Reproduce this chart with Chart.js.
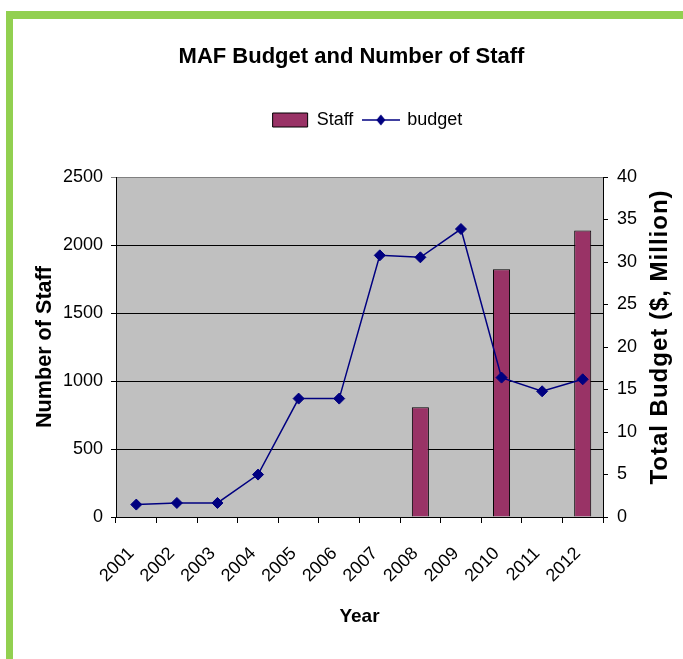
<!DOCTYPE html>
<html>
<head>
<meta charset="utf-8">
<title>MAF Budget and Number of Staff</title>
<script src="https://cdn.jsdelivr.net/npm/chart.js@4.4.1/dist/chart.umd.min.js"></script>
<style>
  html, body { margin: 0; padding: 0; background: #fff; }
  body { width: 683px; height: 659px; position: relative; overflow: hidden; }
  .frame {
    position: absolute; left: 6px; top: 11px; right: -20px; bottom: -20px;
    border-left: 7px solid #92D050; border-top: 8px solid #92D050;
  }
  canvas { position: absolute; left: 0; top: 0; }
</style>
</head>
<body>
<div class="frame"></div>
<canvas id="chart" width="683" height="659"></canvas>
<script>
const years       = ["2001", "2002", "2003", "2004", "2005", "2006", "2007", "2008", "2009", "2010", "2011", "2012"]
const staff       = [null, null, null, null, null, null, null, 807, null, 1821, null, 2106]
const budget      = [1.46, 1.65, 1.65, 4.99, 13.93, 13.93, 30.78, 30.55, 33.88, 16.4, 14.79, 16.2]
const staffTicks  = [0, 500, 1000, 1500, 2000, 2500]
const budgetTicks = [0, 5, 10, 15, 20, 25, 30, 35, 40]

const SANS       = "'Liberation Sans', Arial, sans-serif"
const barColor   = "#993366"
const lineColor  = "#000080"
const plotBg     = "#C0C0C0"
const rightTitle = "Total Budget ($, Million)"

// little line + diamond used as the legend symbol for the budget series
const budgetIcon = (() => {
  const c = document.createElement("canvas")
  c.width = 38
  c.height = 14
  const g = c.getContext("2d")
  g.strokeStyle = lineColor
  g.lineWidth = 1.5
  g.beginPath(); g.moveTo(0, 7); g.lineTo(38, 7); g.stroke()
  g.fillStyle = lineColor
  g.beginPath(); g.moveTo(19, 1.5); g.lineTo(23.5, 7); g.lineTo(19, 12.5); g.lineTo(14.5, 7); g.closePath(); g.fill()
  return c
})()

const plotArea = {
  id: "plotArea",
  beforeDraw(chart) {
    const { ctx, chartArea: a } = chart
    ctx.save()
    ctx.fillStyle = plotBg
    ctx.fillRect(a.left, a.top, a.right - a.left, a.bottom - a.top)
    ctx.restore()
  },
  afterDraw(chart) {
    const { ctx, chartArea: a } = chart
    ctx.save()
    ctx.font = `bold 24px ${SANS}`
    ctx.letterSpacing = "1px"
    ctx.fillStyle = "#000"
    ctx.textAlign = "center"
    ctx.textBaseline = "middle"
    ctx.translate(660, (a.top + a.bottom) / 2 - 10)
    ctx.rotate(-Math.PI / 2)
    ctx.fillText(rightTitle, 0, 0)
    ctx.restore()
  }
}

// extra room between the legend and the plot, and nudge the legend a bit right
const legendGap = {
  id: "legendGap",
  beforeLayout(chart) {
    const lg = chart.legend
    if (!lg || lg._gap) return
    const fit = lg.fit
    lg.fit = function () { fit.call(this); this.height += 38 }
    lg._gap = true
  },
  afterLayout(chart) {
    const lg = chart.legend
    lg.left += 16
    lg.right += 16
  }
}

new Chart(document.getElementById("chart"), {
  type: "bar",
  data: {
    labels: years,
    datasets: [
      {
        type: "bar",
        label: "Staff",
        data: staff,
        yAxisID: "y",
        backgroundColor: barColor,
        borderColor: "#000",
        borderWidth: 1,
        barPercentage: 0.42,
        categoryPercentage: 1,
        order: 1
      },
      {
        type: "line",
        label: "budget",
        data: budget,
        yAxisID: "y1",
        borderColor: lineColor,
        borderWidth: 1.5,
        tension: 0,
        pointStyle: "rectRot",
        pointRadius: 5.5,
        pointBackgroundColor: lineColor,
        pointBorderColor: lineColor,
        pointBorderWidth: 1,
        order: 0
      }
    ]
  },
  options: {
    responsive: false,
    animation: false,
    events: [],
    layout: { padding: { left: 20 } },
    plugins: {
      tooltip: { enabled: false },
      title: {
        display: true,
        text: "MAF Budget and Number of Staff",
        color: "#000",
        font: { family: SANS, size: 22, weight: "bold" },
        padding: { top: 43.3, bottom: 31.3 }
      },
      legend: {
        labels: {
          usePointStyle: true,
          pointStyleWidth: 35,
          boxHeight: 14,
          padding: 10,
          color: "#000",
          font: { family: SANS, size: 18 },
          generateLabels: () => [
            { text: "Staff", fillStyle: barColor, strokeStyle: "#000", lineWidth: 1, pointStyle: "rect", datasetIndex: 0, hidden: false },
            { text: "budget", pointStyle: budgetIcon, datasetIndex: 1, hidden: false, lineWidth: 0 }
          ]
        }
      }
    },
    scales: {
      x: {
        offset: true,
        grid:   { offset: true, drawOnChartArea: false, color: "#000", tickLength: 6 },
        border: { color: "#000" },
        ticks:  {
          color: "#000",
          font: { family: SANS, size: 18 },
          minRotation: 45,
          maxRotation: 45,
          autoSkip: false,
          padding: 20,
          labelOffset: -5
        },
        title: {
          display: true,
          text: "Year",
          color: "#000",
          font: { family: SANS, size: 19, weight: "bold" },
          padding: { top: 0, bottom: 30.6 }
        },
        afterFit: s => { s.height = 142 }
      },
      y: {
        position: "left",
        min: staffTicks[0],
        max: staffTicks[staffTicks.length - 1],
        ticks: {
          stepSize: staffTicks[1] - staffTicks[0],
          callback: v => String(v),
          color: "#000",
          font: { family: SANS, size: 18 },
          padding: 8
        },
        grid: {
          color: c => c.tick && c.tick.value === staffTicks[staffTicks.length - 1] ? "#808080" : "#000",
          tickLength: 5
        },
        border: { color: "#000" },
        title: {
          display: true,
          text: "Number of Staff",
          color: "#000",
          font: { family: SANS, size: 21.6, weight: "bold" },
          padding: { top: 12, bottom: 0 }
        },
        afterFit: s => { s.width = 96 }
      },
      y1: {
        position: "right",
        min: budgetTicks[0],
        max: budgetTicks[budgetTicks.length - 1],
        ticks: {
          stepSize: budgetTicks[1] - budgetTicks[0],
          callback: v => String(v),
          color: "#000",
          font: { family: SANS, size: 18 },
          padding: 9
        },
        grid:   { drawOnChartArea: false, color: "#000", tickLength: 5 },
        border: { color: "#000" },
        afterFit: s => { s.width = 80 }
      }
    }
  },
  plugins: [plotArea, legendGap]
})
</script>
</body>
</html>
